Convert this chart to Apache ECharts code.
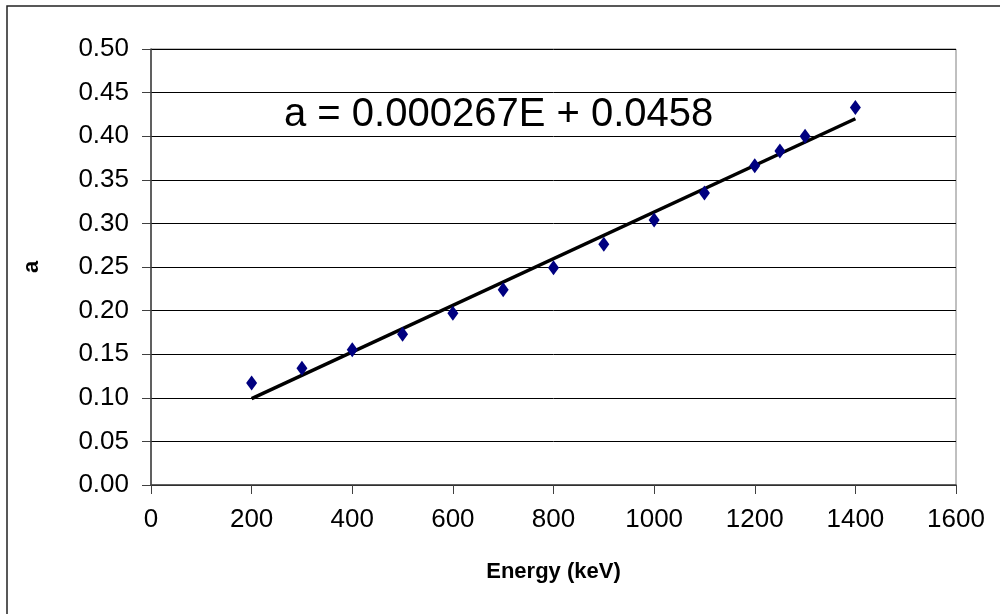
<!DOCTYPE html>
<html>
<head>
<meta charset="utf-8">
<script src="https://cdn.jsdelivr.net/npm/echarts@6/dist/echarts.min.js"></script>
<style>
  html, body { margin: 0; padding: 0; background: #fff; }
  #chart { width: 1000px; height: 614px; }
</style>
</head>
<body>
<div id="chart"></div>
<script>
var energies = [200, 300, 400, 500, 600, 700, 800, 900, 1000, 1100, 1200, 1250, 1300, 1400];
var aValues = [0.117, 0.134, 0.155, 0.173, 0.197, 0.224, 0.249, 0.276, 0.304, 0.335, 0.366, 0.383, 0.400, 0.433];
var fitEnergies = [200, 1400];
var fitValues = [0.099, 0.420];
var equationText = 'a = 0.000267E + 0.0458';

var myChart = echarts.init(document.getElementById('chart'));
var font = 'Liberation Sans, Arial, sans-serif';

var option = {
    animation: false,
    backgroundColor: '#fff',
    grid: {
        left: 151, top: 49, right: 44, bottom: 129,
        show: true,
        borderColor: '#808080',
        borderWidth: 1
    },
    xAxis: {
        type: 'value',
        min: 0, max: 1600, interval: 200,
        name: 'Energy (keV)',
        nameLocation: 'middle',
        nameGap: 76,
        nameTextStyle: { fontFamily: font, fontSize: 22, fontWeight: 'bold', color: '#000' },
        axisLine: { show: true, lineStyle: { color: '#404040', width: 1.5 } },
        axisTick: { show: true, length: 9, lineStyle: { color: '#404040' } },
        axisLabel: {
            fontFamily: font, fontSize: 26, color: '#000', margin: 22,
            formatter: function (v) { return String(v); }
        },
        splitLine: { show: false }
    },
    yAxis: {
        type: 'value',
        min: 0, max: 0.5, interval: 0.05,
        name: 'a',
        nameLocation: 'middle',
        nameGap: 108,
        nameTextStyle: { fontFamily: font, fontSize: 22, fontWeight: 'bold', color: '#000' },
        axisLine: { show: true, lineStyle: { color: '#404040', width: 1.5 } },
        axisTick: { show: true, length: 9, lineStyle: { color: '#404040' } },
        axisLabel: {
            fontFamily: font, fontSize: 26, color: '#000', margin: 22,
            formatter: function (v) { return v.toFixed(2); }
        },
        splitLine: { show: true, lineStyle: { color: '#000', width: 1 } }
    },
    graphic: [
        {
            type: 'rect',
            shape: { x: 7, y: 6, width: 1020, height: 640 },
            style: { fill: 'none', stroke: '#222', lineWidth: 1.5 },
            silent: true
        },
        {
            type: 'text',
            left: 284, top: 95,
            style: { text: equationText, font: '40px ' + font, fill: '#000' }
        }
    ],
    series: [
        {
            name: 'fit',
            type: 'line',
            data: fitEnergies.map(function (e, i) { return [e, fitValues[i]]; }),
            symbol: 'none',
            lineStyle: { color: '#000', width: 3.5 },
            z: 2
        },
        {
            name: 'a',
            type: 'scatter',
            data: energies.map(function (e, i) { return [e, aValues[i]]; }),
            symbol: 'diamond',
            symbolSize: [11, 15],
            itemStyle: { color: '#000080', opacity: 1 },
            z: 3
        }
    ]
};

myChart.setOption(option);
</script>
</body>
</html>
